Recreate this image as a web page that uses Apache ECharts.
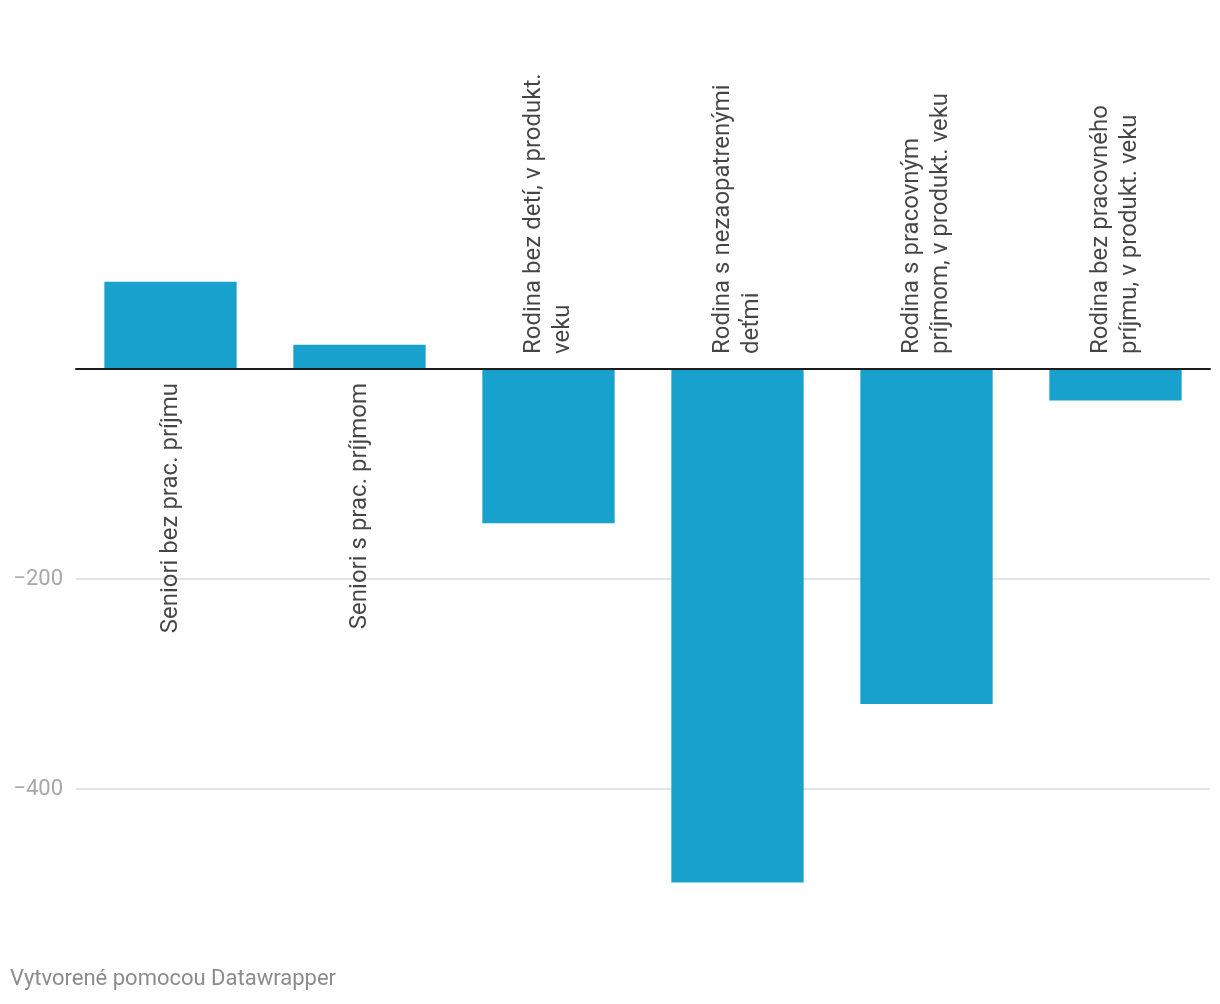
<!DOCTYPE html>
<html>
<head>
<meta charset="utf-8">
<script src="https://cdn.jsdelivr.net/npm/echarts@6/dist/echarts.min.js"></script>
<style>
html,body{margin:0;padding:0;background:#fff;}
#c{width:1220px;height:1004px;}
</style>
</head>
<body>
<div id="c"></div>
<script>
const categories = [
  "Seniori bez prac. príjmu",
  "Seniori s prac. príjmom",
  "Rodina bez detí, v produkt.\nveku",
  "Rodina s nezaopatrenými\ndeťmi",
  "Rodina s pracovným\npríjmom, v produkt. veku",
  "Rodina bez pracovného\npríjmu, v produkt. veku"
];
const values = [83, 23, -147, -489, -319, -30];
const gridTicks = [-400, -200, 0];
const footerText = "Vytvorené pomocou Datawrapper";

const chart = echarts.init(document.getElementById('c'));
const FONT = 'Roboto, "Noto Sans", sans-serif';

const labelData = values.map((v, i) => ({
  value: [i, 0],
  label: {
    align: v >= 0 ? 'right' : 'left',
    offset: v >= 0 ? [-14, 0] : [15, 0]
  }
}));

chart.setOption({
  animation: false,
  textStyle: { fontFamily: FONT },
  grid: [
    { left: 76, right: 10, top: 54, bottom: 110 },
    { left: 76, right: 10, top: 369, bottom: 215 }
  ],
  xAxis: [
    {
      type: 'category', gridIndex: 0, data: categories,
      axisLine: { show: true, onZero: true, lineStyle: { color: '#1d1d1d', width: 2 } },
      axisTick: { show: false }, axisLabel: { show: false }, z: 10
    },
    {
      type: 'category', gridIndex: 1, data: categories, show: false
    }
  ],
  yAxis: [
    {
      type: 'value', gridIndex: 0, min: -500, max: 300,
      axisLine: { show: false }, axisTick: { show: false },
      axisLabel: { show: false }, splitLine: { show: false }
    },
    {
      type: 'value', gridIndex: 1, min: gridTicks[0], max: gridTicks[gridTicks.length - 1], interval: 200,
      axisLine: { show: false }, axisTick: { show: false },
      axisLabel: {
        margin: 13, color: '#a8a8a8', fontSize: 22, fontFamily: FONT,
        formatter: v => v === 0 ? '' : (v < 0 ? '\u2212' + Math.abs(v) : String(v))
      },
      splitLine: { show: true, showMaxLine: false, lineStyle: { color: '#e3e3e3', width: 2 } }
    }
  ],
  series: [
    {
      type: 'bar', xAxisIndex: 0, yAxisIndex: 0,
      data: values, barCategoryGap: '30%',
      itemStyle: { color: '#18a1cd' }, z: 2
    },
    {
      type: 'scatter', xAxisIndex: 0, yAxisIndex: 0,
      data: labelData, symbolSize: 1,
      itemStyle: { color: 'rgba(0,0,0,0)' },
      silent: true, z: 5,
      label: {
        show: true, position: 'inside', rotate: 90,
        verticalAlign: 'middle',
        fontSize: 24, lineHeight: 29, color: '#161616', fontFamily: FONT,
        formatter: p => categories[p.dataIndex]
      }
    }
  ],
  graphic: [
    {
      type: 'text', left: 10, top: 968,
      style: { text: footerText, fontSize: 22, fill: '#8c8c8c', fontFamily: FONT }
    }
  ]
});
</script>
</body>
</html>
